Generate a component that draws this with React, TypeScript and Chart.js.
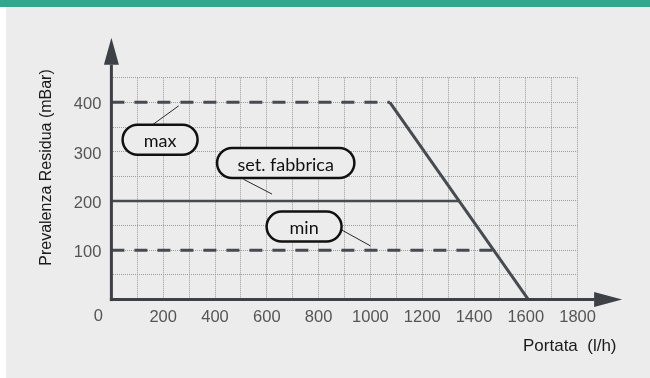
import React, { useEffect, useRef } from "react";
import { Chart, registerables } from "chart.js";

Chart.register(...registerables);

// ---- data ----
const xLabelValues = [200, 400, 600, 800, 1000, 1200, 1400, 1600, 1800];
const yLabelValues = [100, 200, 300, 400];

const maxFlow = [0, 1075];
const maxHead = [400, 400];
const curveFlow = [1075, 1610];
const curveHead = [400, 0];
const setFlow = [0, 1345];
const setHead = [200, 200];
const minFlow = [0, 1475];
const minHead = [100, 100];

const calloutTexts = ["max", "set. fabbrica", "min"];
const calloutX = [188, 673, 744];
const calloutY = [324, 277, 148];
const leaderFromX = [160, 510, 890];
const leaderFromY = [355, 244, 141];
const leaderToX = [260, 620, 1000];
const leaderToY = [393, 214, 109];

const xTitle = "Portata  (l/h)";
const yTitle = "Prevalenza Residua (mBar)";

const pts = (xs: number[], ys: number[]) => xs.map((x, i) => ({ x, y: ys[i] }));

const TICK_FONT = "'Liberation Sans', Arial, sans-serif";
const PILL_FONT = "Lato, 'Open Sans', sans-serif";

const decorPlugin = {
  id: "decor",
  beforeDraw(chart: any) {
    const ctx = chart.ctx;
    ctx.save();
    ctx.fillStyle = "#ffffff";
    ctx.fillRect(0, 0, chart.width, chart.height);
    ctx.fillStyle = "#30a88e";
    ctx.fillRect(0, 0, chart.width, 7);
    ctx.fillStyle = "#ececec";
    ctx.fillRect(6, 7, chart.width - 6, chart.height - 7);
    ctx.restore();
  },
  afterDatasetsDraw(chart: any) {
    const ctx = chart.ctx;
    const xs = chart.scales.x;
    const ys = chart.scales.y;
    const ca = chart.chartArea;
    const x0 = xs.getPixelForValue(0);
    const y0 = ys.getPixelForValue(0);
    ctx.save();

    // callout pills
    ctx.font = `18px ${PILL_FONT}`;
    calloutTexts.forEach((t, i) => {
      const cx = xs.getPixelForValue(calloutX[i]);
      const cy = ys.getPixelForValue(calloutY[i]);
      const tw = ctx.measureText(t).width;
      const w = Math.max(tw + 41, 75);
      const h = 30;
      const r = h / 2;
      const l = cx - w / 2;
      const tp = cy - h / 2;
      ctx.beginPath();
      ctx.moveTo(l + r, tp);
      ctx.lineTo(l + w - r, tp);
      ctx.arc(l + w - r, cy, r, -Math.PI / 2, Math.PI / 2);
      ctx.lineTo(l + r, tp + h);
      ctx.arc(l + r, cy, r, Math.PI / 2, Math.PI * 1.5);
      ctx.closePath();
      ctx.fillStyle = "#ececec";
      ctx.fill();
      ctx.lineWidth = 2.5;
      ctx.strokeStyle = "#111111";
      ctx.stroke();
      ctx.fillStyle = "#111111";
      ctx.textAlign = "center";
      ctx.textBaseline = "alphabetic";
      ctx.fillText(t, cx, cy + 7.5);
    });

    // axes with arrows
    ctx.strokeStyle = "#3d4045";
    ctx.fillStyle = "#3d4045";
    ctx.lineWidth = 3;
    ctx.beginPath();
    ctx.moveTo(x0, y0 + 1.5);
    ctx.lineTo(x0, ca.top - 13);
    ctx.stroke();
    ctx.beginPath();
    ctx.moveTo(x0 - 1.5, y0);
    ctx.lineTo(ca.right + 17, y0);
    ctx.stroke();
    ctx.beginPath();
    ctx.moveTo(x0, ca.top - 40);
    ctx.lineTo(x0 + 7.5, ca.top - 13);
    ctx.lineTo(x0 - 7.5, ca.top - 13);
    ctx.closePath();
    ctx.fill();
    ctx.beginPath();
    ctx.moveTo(ca.right + 44.5, y0);
    ctx.lineTo(ca.right + 16.5, y0 - 7.5);
    ctx.lineTo(ca.right + 16.5, y0 + 7.5);
    ctx.closePath();
    ctx.fill();

    // origin label
    ctx.font = `16.5px ${TICK_FONT}`;
    ctx.fillStyle = "#555555";
    ctx.textAlign = "center";
    ctx.textBaseline = "middle";
    ctx.fillText("0", x0 - 13, y0 + 16.5);

    // axis titles
    ctx.fillStyle = "#1a1a1a";
    ctx.font = `17px ${TICK_FONT}`;
    ctx.textAlign = "left";
    ctx.fillText(xTitle, 523, y0 + 46.5);
    ctx.font = `16px ${TICK_FONT}`;
    ctx.translate(46.5, 167.5);
    ctx.rotate(-Math.PI / 2);
    ctx.textAlign = "center";
    ctx.fillText(yTitle, 0, 0);
    ctx.restore();
  },
};

export default function App() {
  const ref = useRef<HTMLCanvasElement | null>(null);
  useEffect(() => {
    if (!ref.current) return;
    const lineColor = "#474a4e";
    const leaderSets = calloutTexts.map((t, i) => ({
      label: `leader ${t}`,
      data: pts([leaderFromX[i], leaderToX[i]], [leaderFromY[i], leaderToY[i]]),
      borderColor: "#2a2a2a",
      borderWidth: 1,
      pointRadius: 0,
      showLine: true,
    }));
    const chart = new Chart(ref.current, {
      type: "scatter",
      data: {
        datasets: [
          {
            label: "max",
            data: pts(maxFlow, maxHead),
            borderColor: lineColor,
            borderWidth: 3,
            borderDash: [13, 10],
            pointRadius: 0,
            showLine: true,
          },
          {
            label: "min",
            data: pts(minFlow, minHead),
            borderColor: lineColor,
            borderWidth: 3,
            borderDash: [13, 10],
            pointRadius: 0,
            showLine: true,
          },
          {
            label: "set. fabbrica",
            data: pts(setFlow, setHead),
            borderColor: lineColor,
            borderWidth: 2.5,
            pointRadius: 0,
            showLine: true,
          },
          {
            label: "curva",
            data: pts(curveFlow, curveHead),
            borderColor: lineColor,
            borderWidth: 3,
            pointRadius: 0,
            showLine: true,
          },
          ...leaderSets,
        ],
      },
      options: {
        responsive: false,
        animation: false,
        layout: { padding: { left: 0, top: 77.7, right: 72.4, bottom: 38.4 } },
        plugins: { legend: { display: false }, tooltip: { enabled: false } },
        scales: {
          x: {
            type: "linear",
            min: 0,
            max: 1800,
            afterFit: (s: any) => {
              s.height = 40;
            },
            ticks: {
              stepSize: 100,
              autoSkip: false,
              maxRotation: 0,
              padding: 8,
              color: "#555555",
              font: { family: TICK_FONT, size: 16.5 },
              callback: (v: any) => (xLabelValues.includes(Number(v)) ? String(v) : ""),
            },
            grid: { color: "#9c9c9c", lineWidth: 1, drawTicks: false },
            border: { display: false, dash: [1, 1] },
          },
          y: {
            type: "linear",
            min: 0,
            max: 450,
            afterFit: (s: any) => {
              s.width = 111.4;
            },
            ticks: {
              stepSize: 50,
              autoSkip: false,
              padding: 10,
              labelOffset: 2.5,
              color: "#555555",
              font: { family: TICK_FONT, size: 16.5 },
              callback: (v: any) => (yLabelValues.includes(Number(v)) ? String(v) : ""),
            },
            grid: { color: "#9c9c9c", lineWidth: 1, drawTicks: false },
            border: { display: false, dash: [1, 1] },
          },
        },
      },
      plugins: [decorPlugin],
    } as any);
    return () => chart.destroy();
  }, []);
  return (
    <canvas
      ref={ref}
      width={650}
      height={378}
      style={{ display: "block", position: "absolute", left: 0, top: 0 }}
    />
  );
}
